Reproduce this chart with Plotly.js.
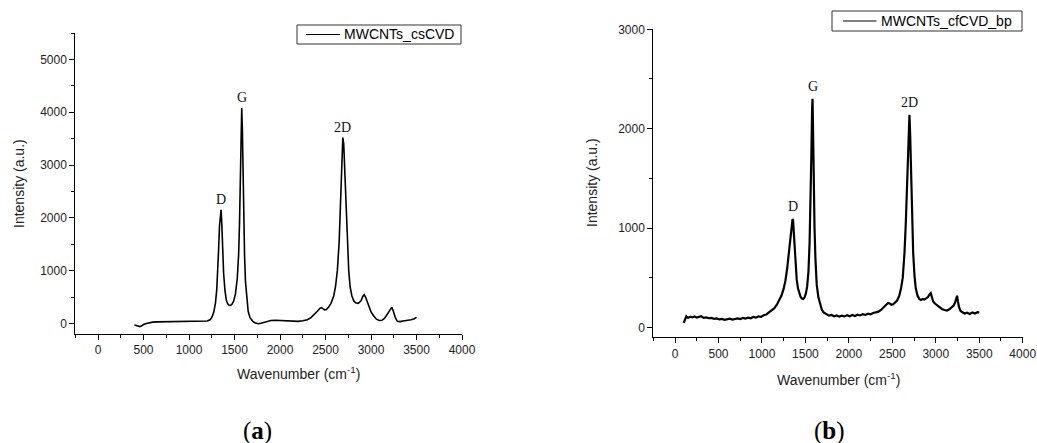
<!DOCTYPE html>
<html>
<head>
<meta charset="utf-8">
<script src="https://cdn.plot.ly/plotly-3.0.1.min.js"></script>
<style>html,body{margin:0;padding:0;background:#fff;}#chart{width:1037px;height:443px;}</style>
</head>
<body>
<div id="chart"></div>
<script>
// ---- Data: (a) MWCNTs_csCVD ----
const nameA = 'MWCNTs_csCVD';
const waveA = [400,420,440,460,480,500,530,560,600,650,700,750,800,850,900,950,1000,1050,1100,1150,1200,1230,1250,1270,1290,1305,1315,1325,1335,1345,1352,1360,1370,1380,1395,1410,1425,1440,1455,1470,1490,1510,1530,1545,1555,1565,1572,1579,1586,1593,1600,1610,1620,1635,1650,1670,1700,1730,1760,1790,1820,1850,1900,1950,2000,2050,2100,2150,2200,2250,2300,2340,2380,2410,2440,2455,2470,2490,2510,2530,2560,2590,2610,2630,2650,2665,2678,2690,2700,2712,2725,2740,2755,2770,2790,2810,2830,2860,2890,2910,2925,2940,2960,2980,3000,3030,3060,3090,3120,3150,3180,3200,3215,3228,3240,3255,3270,3290,3320,3350,3380,3410,3440,3470,3500];
const intA = [-30,-45,-55,-60,-45,-20,0,15,25,30,32,35,38,35,40,42,45,48,55,50,45,70,110,200,380,650,950,1400,1850,2130,2150,1900,1400,950,620,440,370,345,340,360,420,560,850,1300,1900,2800,3500,4080,3700,2900,2100,1300,800,420,230,110,40,10,-5,5,20,40,55,60,55,50,45,40,40,50,70,110,170,230,290,300,280,255,265,300,380,520,700,1000,1550,2200,3000,3520,3400,2900,2200,1500,1000,700,520,430,390,380,430,510,545,500,400,300,220,140,80,55,60,100,180,240,285,305,260,170,100,40,35,45,50,55,70,85,115];

// ---- Data: (b) MWCNTs_cfCVD_bp ----
const nameB = 'MWCNTs_cfCVD_bp';
const waveB = [100,110,120,130,150,175,200,225,250,275,300,330,360,390,420,450,480,510,540,570,600,630,660,690,720,750,780,810,840,870,900,930,960,990,1020,1050,1080,1110,1140,1170,1200,1225,1250,1270,1290,1305,1320,1333,1345,1352,1358,1365,1375,1388,1400,1415,1430,1445,1460,1475,1490,1505,1520,1535,1548,1560,1570,1577,1582,1588,1595,1605,1615,1630,1650,1670,1690,1710,1740,1770,1800,1830,1860,1890,1920,1950,1980,2010,2040,2070,2100,2130,2160,2190,2220,2250,2280,2310,2340,2370,2400,2425,2450,2470,2490,2510,2530,2555,2580,2600,2620,2640,2655,2668,2680,2690,2697,2705,2715,2728,2740,2755,2770,2790,2810,2830,2850,2870,2890,2910,2930,2942,2955,2970,2990,3010,3040,3070,3100,3130,3160,3185,3205,3222,3235,3245,3255,3268,3285,3305,3330,3360,3390,3420,3450,3480,3500];
const intB = [45,70,100,112,95,108,100,110,98,105,112,96,100,92,95,86,90,80,85,76,80,88,78,86,90,84,95,88,98,92,105,98,110,105,122,130,148,165,190,225,270,320,390,470,590,720,850,980,1060,1090,1080,960,780,600,480,390,340,305,290,285,300,340,410,560,850,1250,1800,2200,2300,2000,1500,1000,700,430,300,220,175,150,130,118,125,112,120,108,118,110,122,112,125,115,128,120,132,125,138,132,145,150,158,175,200,230,245,240,228,232,245,270,320,390,500,750,1050,1450,1850,2080,2140,1950,1550,1100,750,520,390,320,285,275,285,280,290,305,335,345,305,260,240,225,205,185,175,170,185,200,220,250,300,318,260,200,165,150,140,148,135,150,140,152,148];

// ---- Peak labels ----
const peakNames = ['D','G','2D'];
const peakWaveA = [1352,1579,2690];
const peakIntA = [2150,4080,3520];
const peakWaveB = [1356,1582,2697];
const peakIntB = [1090,2300,2140];

const xTicks = [0,500,1000,1500,2000,2500,3000,3500,4000];

const sans = 'Liberation Sans, Arial, sans-serif';
const serif = 'Liberation Serif, Times New Roman, serif';

function xAxis(domain, anchor) {
  return {domain: domain, anchor: anchor, range: [-250, 4000], tickvals: xTicks,
    ticks: 'outside', ticklen: 5, tickwidth: 1, tickcolor: '#000',
    showline: true, linecolor: '#000', linewidth: 1, showgrid: false, zeroline: false,
    minor: {dtick: 250, tick0: 0, ticks: 'outside', ticklen: 3, tickwidth: 1, tickcolor: '#000', showgrid: false},
    tickfont: {family: sans, size: 12, color: '#222'}, fixedrange: true};
}
function yAxis(domain, anchor, range) {
  return {domain: domain, anchor: anchor, range: range, dtick: 1000, tick0: 0,
    ticks: 'outside', ticklen: 5, tickwidth: 1, tickcolor: '#000',
    showline: true, linecolor: '#000', linewidth: 1, showgrid: false, zeroline: false,
    minor: {dtick: 500, tick0: 0, ticks: 'outside', ticklen: 3, tickwidth: 1, tickcolor: '#000', showgrid: false},
    tickfont: {family: sans, size: 12, color: '#222'}, fixedrange: true};
}

const W = 1037, H = 443;
const px = v => v / W, py = v => 1 - v / H;

const traces = [
  {x: waveA, y: intA, type: 'scatter', mode: 'lines', name: nameA, xaxis: 'x', yaxis: 'y',
   line: {color: '#000', width: 1.6}, showlegend: false},
  {x: waveB, y: intB, type: 'scatter', mode: 'lines', name: nameB, xaxis: 'x2', yaxis: 'y2',
   line: {color: '#000', width: 2.2}, showlegend: false}
];

const annotations = [];
peakNames.forEach((n, i) => {
  annotations.push({x: peakWaveA[i], y: peakIntA[i], xref: 'x', yref: 'y', text: n, showarrow: false,
    xanchor: 'center', yanchor: 'bottom', yshift: 1, font: {family: serif, size: 14, color: '#111'}});
  annotations.push({x: peakWaveB[i], y: peakIntB[i], xref: 'x2', yref: 'y2', text: n, showarrow: false,
    xanchor: 'center', yanchor: 'bottom', yshift: 3, font: {family: serif, size: 14, color: '#111'}});
});
const titleFont = {family: sans, size: 14, color: '#222'};
const legFont = {family: sans, size: 14, color: '#000'};
function paperText(x, y, text, font, extra) {
  return Object.assign({x: px(x), y: py(y), xref: 'paper', yref: 'paper', text: text, showarrow: false,
    xanchor: 'center', yanchor: 'middle', font: font}, extra || {});
}
annotations.push(
  paperText(19, 184, 'Intensity (a.u.)', titleFont, {textangle: -90}),
  paperText(298, 373, 'Wavenumber (cm<sup>-1</sup>)', titleFont),
  paperText(592, 183, 'Intensity (a.u.)', titleFont, {textangle: -90}),
  paperText(838, 379, 'Wavenumber (cm<sup>-1</sup>)', titleFont),
  paperText(257, 431, '(<b>a</b>)', {family: serif, size: 25, color: '#000'}),
  paperText(829, 431, '(<b>b</b>)', {family: serif, size: 25, color: '#000'}),
  // legend texts
  paperText(342, 34.5, nameA, legFont, {xanchor: 'left'}),
  paperText(879, 21, nameB, legFont, {xanchor: 'left'})
);

// legend frames and line samples
const shapes = [
  {type: 'rect', xref: 'paper', yref: 'paper', x0: px(297), x1: px(461), y0: py(25), y1: py(44),
   line: {color: '#333', width: 1}, fillcolor: '#fff', layer: 'below'},
  {type: 'line', xref: 'paper', yref: 'paper', x0: px(306), x1: px(340), y0: py(34.5), y1: py(34.5),
   line: {color: '#000', width: 1}},
  {type: 'rect', xref: 'paper', yref: 'paper', x0: px(832), x1: px(1022), y0: py(11), y1: py(31),
   line: {color: '#333', width: 1}, fillcolor: '#fff', layer: 'below'},
  {type: 'line', xref: 'paper', yref: 'paper', x0: px(843), x1: px(876.5), y0: py(21), y1: py(21),
   line: {color: '#000', width: 1}}
];

const layout = {
  width: W, height: H, margin: {l: 0, r: 0, t: 0, b: 0},
  paper_bgcolor: '#fff', plot_bgcolor: 'rgba(0,0,0,0)', showlegend: false,
  xaxis: xAxis([px(75.3), px(462)], 'y'),
  yaxis: yAxis([py(334), py(33)], 'x', [-200, 5500]),
  xaxis2: xAxis([px(653.3), px(1022.7)], 'y2'),
  yaxis2: yAxis([py(337.3), py(29.3)], 'x2', [-100, 3000]),
  annotations: annotations,
  shapes: shapes
};

Plotly.newPlot('chart', traces, layout, {displayModeBar: false, staticPlot: true});
</script>
</body>
</html>
